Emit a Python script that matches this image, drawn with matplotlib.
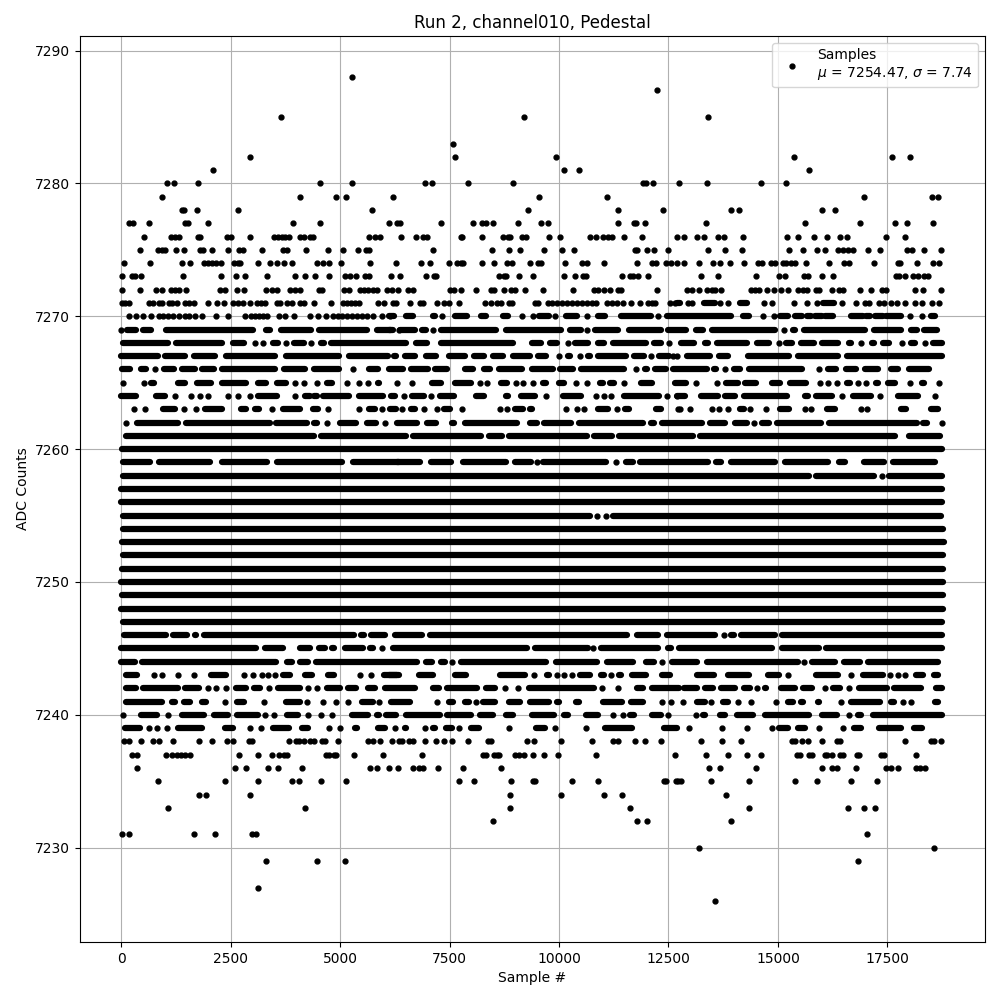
import matplotlib
matplotlib.use('Agg')
import matplotlib.pyplot as plt

# Sample numbers, one list per ADC level.
# A plain number is a single sample, a (start, end) pair is a stretch where
# the dots overlap so much that single samples cannot be told apart.
level_7288 = [5282]
level_7287 = [12242]
level_7285 = [3640, 9210, 13396]
level_7283 = [7568]
level_7282 = [2934, 7614, 9940, 15357, 17614, 18025]
level_7281 = [2090, 10122, 10464, 15699]
level_7280 = [1041, 1201, 1748, 4552, 5282, 6930, 7090, 7933, 8959, 11923, 11992, 12151, 12735, 13374, 14605, 15175]
level_7279 = [927, 4074, 4917, 5145, 6217, 9552, 11102, 16976, 18526, 18663]
level_7278 = [1390, 1436, 1725, 2660, 5738, 9301, 11353, 12379, 13921, 14103, 15996, 16315]
level_7277 = [190, 266, 631, 1460, 1520, 1976, 3914, 4552, 6126, 6292, 6360, 7295, 8047, 8252, 8344, 8503, 9073, 9598,
              9757, 11353, 11718, 11764, 11969, 13351, 15608, 16885, 17668, 17956, 18549]
level_7276 = [517, 1140, 1231, 1322, 1748, 1801, 2409, 2500, 2934, 3481, 3572, 3663, 3739, 3830, 4074, 4165, 4302, 4393,
              5670, 5806, 5920, 6390, 6725, 6884, 6976, 7751, 7796, 8252, 8731, 8845, 8891, 9164, 9256, 9780, 10031,
              10715, 10852, 11011, 11125, 11216, 11490, 11900, 12690, 12849, 13146, 13305, 13624, 13761, 14194, 15198,
              15448, 15813, 16110, 16429, 16588, 17478, 17911]
level_7275 = [426, 836, 927, 1003, 1246, 1429, 1794, 1862, 2067, 2432, 2683, 2774, 3207, 3686, 3777, 4233, 4735, 5077,
              5419, 5601, 5662, 7112, 8480, 8868, 9119, 9666, 10076, 10350, 11741, 11786, 12014, 12174, 12500, 13396,
              13784, 14172, 15243, 15562, 15882, 16064, 16383, 16497, 16612, 16726, 17067, 17341, 17956, 18070, 18344,
              18732]
level_7274 = [61, 654, 1383, 1566, 1885, 1976, 2067, 2158, 2272, 2569, 2660, 2706, 3116, 3390, 3549, 3709, 3891, 4484,
              4621, 4758, 5031, 5692, 6269, 6839, 7044, 7477, 7660, 7751, 7819, 8252, 8526, 8822, 8936, 9347, 9529,
              9598, 10145, 10532, 10645, 11034, 11786, 12128, 12220, 12448, 12553, 12690, 12849, 13191, 13510, 13670,
              13898, 14217, 14536, 14628, 14833, 14924, 15106, 15175, 15289, 15380, 15631, 16178, 16520, 16634, 17204,
              17751, 17797, 18184, 18549, 18686]
level_7273 = [15, 243, 312, 448, 1406, 2272, 2614, 2820, 3321, 3982, 4210, 4438, 4758, 5122, 5236, 5373, 5578, 5670,
              6162, 6360, 6953, 7135, 7181, 8640, 8754, 8800, 9096, 9415, 10122, 10373, 10555, 10624, 11444, 11627,
              11695, 11809, 12037, 13237, 13624, 14491, 15015, 15152, 15585, 15676, 16018, 16269, 17706, 17774, 17911,
              18093, 18207, 18344, 18435]
level_7272 = [15, 426, 790, 927, 1132, 1224, 1315, 1474, 2250, 2364, 2637, 2797, 3298, 3435, 3549, 3846, 3982, 4074,
              4530, 4598, 5100, 5214, 5464, 5555, 5646, 5760, 5852, 6079, 6194, 6314, 6542, 6656, 7500, 7591, 7751,
              8116, 8458, 8526, 8746, 8914, 9005, 9233, 9643, 10327, 10806, 10897, 11034, 11171, 11353, 11422, 12242,
              12918, 13032, 13191, 13374, 13488, 13556, 13693, 14377, 14468, 14559, 14742, 14901, 15061, 15220, 15448,
              15562, 15654, 15859, 15927, 16246, 16406, 16497, 16885, 17136, 17386, 17478, 18139, 18321, 18732]
level_7271 = [15, 84, 175, 631, 722, 859, 927, 1087, 1155, 1269, 1452, 1543, 1657, 1976, 2181, 2341, 2546, 2660, 2774,
              2934, 3093, 3184, 3276, 3549, 3618, 3777, 3891, 4074, 4165, 4416, 4803, 5077, 5168, 5259, 5350, 5442,
              5875, 6012, 6200, 6269, 6588, 6816, 6884, 7204, 7363, 7477, 7705, 8321, 8458, 8594, 8686, 8868, 8936,
              9461, 9529, 9757, 9848, 9962, 10076, 10190, 10304, 10418, 10532, 10646, 10760, 10852, 11102, 11216,
              11330, 11467, 11634, 11855, 12037, 12128, 12197, 12539, 12653, (12700, 12766), 12940, 13032,
              (13305, 13556), 13670, 13852, (14126, 14286), 14673, 14856, 15357, 15654, 15882, (16041, 16270), 16474,
              16794, 16998, 17090, 17318, 17432, 17592, 17729, 17911, 18139, 18298, 18526, 18686]
level_7270 = [175, 334, 494, 676, 859, 950, 1064, 1178, 1315, 1452, 1543, 1680, 1839, 2158, 2432, 2820, 2956, 3048, 3139,
              3230, 3321, 3595, 3732, 3937, 4324, 4499, 4689, 4849, 4963, 5054, 5168, 5282, 5396, 5510, 5624, 5761,
              5966, 6148, (6124, 6238), (6497, 6664), (7120, 7158), 7333, (7622, 7903), (8230, 8336), (8724, 8830),
              9164, 9400, (9552, 9765), 9902, (10160, 10403), 10646, (10890, 11057), (11422, 12098), 12250,
              (12470, 13928), (14210, 14346), 14650, 14901, (15046, 15220), (15380, 15540), (15654, 15752),
              (15844, 15996), (16072, 16262), (16664, 16946), (17021, 17098), (17212, 17402), (17478, 17820), 18025,
              18298, (18504, 18580)]
level_7269 = [0, (144, 350), (509, 692), (1018, 3010), (3298, 3390), (3640, 4340), (4514, 5609), (5844, 6202),
              6346, (6124, 6170), (6360, 6702), (6877, 6953), 7112, (7310, 8564), (8792, 10046),
              (10244, 10502), 10646, (10829, 11338), (11604, 12341), (12500, 12902), (13138, 13282), (13495, 14924),
              15137, (15342, 15395), (15585, 16991), (17204, 17812), (18040, 18169), (18344, 18625)]
level_7268 = [(53, 1079), (1262, 2310), (2554, 2797), 3055, 3230, (3473, 3580), 3754, (3944, 4165), 4332, (4575, 4644),
              (4803, 6512), (6740, 6983), (7295, 8944), (9385, 9590), (9803, 9947), 10206, (10358, 10654),
              (10890, 11034), (11224, 11984), (12174, 12326), 12516, (12796, 13077), (13328, 13404), (13617, 14293),
              (14529, 14787), 15015, (15190, 15319), (15517, 15813), (16011, 16383), (16634, 16672), 16908,
              (17151, 17204), (17394, 17538), 17835, (18040, 18131), 18367, (18549, 18739)]
level_7267 = [(8, 844), (996, 1467), (1664, 2151), (2386, 3504), (3754, 4986), (5198, 6088), (6238, 6278),
              (6482, 6702), (6953, 7181), (7485, 7842), (8055, 8298), (8496, 8731), (8944, 9347), (9514, 9704), 10000,
              (10198, 10251), 10472, (10662, 10707), (10890, 11528), (11703, 11946), 12106, (12273, 12516), 12610,
              12691, (12933, 13457), (13655, 13860), (14316, 15243), (15456, 16383), (16581, 18739)]
level_7266 = [(30, 213), (464, 562), 768, (980, 1200), (1383, 1680), (1854, 2113), (2310, 3504), (3716, 4210),
              (4400, 4986), 5305, (5654, 5860), (6110, 6436), (6611, 7006), (7166, 7439), (7850, 8032), (8283, 8427),
              (8625, 9157), (9385, 9856), (10031, 10312), (10510, 11490), 11764, (11954, 11999), (12182, 12455),
              (12615, 13381), (13533, 13586), 13784, (13989, 14141), (14331, 15547), 15935, (16140, 16322),
              (16558, 16778), (16991, 17295), (17584, 17751), (17994, 18450), (18648, 18663)]
level_7265 = [53, 517, (692, 745), (1307, 1467), (1740, 2060), (2310, 2858), (3131, 3314), (3564, 3770), 3967, 4172,
              4469, (4704, 4818), 5168, 5442, 5639, (5867, 5898), 6307, 6634, (7090, 7310), (7622, 7994), 8192, 8366,
              (8678, 8807), 9028, 9187, 9415, (9628, 9704), (9993, 10122), 10396, 10646, (10928, 10996),
              (11171, 11262), 11475, (11866, 12128), (12660, 12902), 13123, 13617, (13822, 14080), (14255, 14498),
              (14863, 15053), (15281, 15638), 15950, 16148, 16353, (16573, 16657), 16824, 17022, (17242, 17295),
              (17523, 17675), 18025, (18283, 18344), 18686]
level_7264 = [(8, 350), (806, 1011), 1224, 1588, 1794, 1984, 2440, 2660, 2934, (3124, 3557), 3982, (4195, 4317),
              (4400, 4469), (4606, 5198), (5426, 5974), (6171, 6262), 6466, (6649, 6907), 7074, (7280, 7591),
              (8108, 8298), (8800, 8845), (9134, 9446), 9712, (10092, 10502), 10852, 11019, 11194, (11490, 12288),
              12478, 12691, (12705, 12872), (13252, 13632), (13799, 14012), (14225, 15198), (15623, 15684),
              (15874, 16246), 16474, (16710, 17128), 17341, (17744, 18192), 18595]
level_7263 = [289, 555, (958, 1239), 1444, 1710, (1908, 2310), (2728, 2842), (3048, 3146), 3435, (3694, 4089),
              (4378, 4492), 4735, 5442, (5654, 5806), 5958, (6148, 6278), 6406, (6611, 6702), 6907, 7204, (7371, 7500),
              7774, 8663, 8815, (9000, 9172), (9347, 9385), 10168, 10418, 10578, (10890, 11110), 11315,
              (11513, 11604), (12212, 12334), 12721, 12766, 13000, 13488, 13647, 13860, (14141, 14217), 14369, 14719,
              (15046, 15258), 15623, 15760, (16125, 16307), 16900, 17044, (17812, 17918), (18496, 18663)]
level_7262 = [106, (372, 1307), (1490, 3390), (3542, 4248), (4400, 4469), 4712, (5000, 5366), (5616, 5822), 6034,
              (6300, 6763), (6976, 7181), (7561, 7606), (7850, 9043), (9347, 9491), (9666, 10274), (10449, 11908),
              (12106, 12174), (12364, 13267), (13457, 13784), (14027, 14293), 14445, (14635, 14787), (14977, 15988),
              (16163, 18169), (18321, 18397), 18739]
level_7261 = [(122, 4416), (4575, 6512), (6671, 8222), (8412, 8701), (8868, 10639), (10806, 11209), (11376, 13054),
              (13214, 17675), (17987, 18701)]
level_7260 = [(30, 18740)]
level_7259 = [(53, 669), (866, 2037), (2310, 3329), (3564, 5046), (5290, 6346), (6307, 6816), (7082, 7523),
              (7812, 8792), (9000, 9362), 9506, (9628, 11072), 11292, (11535, 11680), (11855, 13396), (13594, 13708),
              (13936, 14924), (15152, 16155), (16406, 16535), (16961, 17424), (17622, 18587)]
level_7258 = [(53, 15699), (15859, 17204), 17386, (17546, 18739)]
level_7257 = [(8, 18739)]
level_7256 = [(8, 18754)]
level_7255 = [(53, 10707), 10867, 11080, (11239, 18732)]
level_7254 = [(40, 18760)]
level_7253 = [(20, 18790)]
level_7252 = [(40, 18760)]
level_7251 = [(30, 18770)]
level_7250 = [(8, 18770)]
level_7249 = [(20, 18770)]
level_7248 = [(8, 18770)]
level_7247 = [(53, 18750)]
level_7246 = [(68, 1034), (1193, 1512), (1680, 1718), (1892, 5328), (5487, 5556), (5715, 6034), (6247, 6862),
              (7052, 11543), (11779, 12250), (12463, 13571), 13761, (13921, 13997), (14164, 14939), (15091, 18739)]
level_7245 = [(8, 3086), (3283, 3694), (4074, 4317), (4530, 4651), (4818, 4872), (5107, 5533), (5692, 5746), 5958,
              (6202, 9263), (9461, 10654), 10783, (10958, 12250), (12500, 12554), (12735, 14863), (15091, 15927),
              (16102, 18739)]
level_7244 = [(8, 312), (471, 3542), (3792, 3906), (4096, 4264), (4454, 6755), (6953, 7105), (7295, 7386), 7553,
              (7766, 9704), (9932, 10859), (11095, 11680), (11984, 12174), 12356, (12577, 13154), (13389, 15456),
              15585, (15775, 16307), (16505, 16877), (17067, 18663)]
level_7243 = [(122, 365), 752, 927, 1290, 1657, (2060, 2402), 2797, 3010, 3207, 3352, 3511, (3694, 3846), (4195, 4362),
              (4727, 4872), 5449, 5700, (6012, 6346), (6124, 6307), (6801, 7120), (7614, 7865), (8648, 9225), 9438,
              (9727, 9780), 9955, 10107, 10304, (10487, 10707), (10966, 11034), 11194, (11376, 11414), (11665, 11984),
              (12364, 12531), (13161, 13541), (13860, 14346), (14772, 15015), 15236, (15859, 16383), 16680,
              (16938, 17409), 17561, 17736, 17903, (18154, 18321), (18557, 18648)]
level_7242 = [(106, 334), (502, 1300), (1459, 1771), 1976, 2174, 2386, (2630, 2842), (3032, 3162), 3374, (3587, 4089),
              4279, 4469, (4704, 5008), (5183, 5366), (5639, 5799), (6019, 6702), (7120, 7257), (7447, 8123),
              (8336, 8549), 8761, 9073, (9324, 10806), 10981, 11338, (11779, 11908), (12121, 12736), (12857, 13154),
              (13343, 13510), (13708, 14012), (14225, 14369), 14521, (14711, 14734), (15061, 15380), (15570, 15775),
              16079, (16269, 16421), 16619, (16862, 17485), (17660, 18268), (18610, 18739)]
level_7241 = [(122, 942), (1170, 1224), (1436, 1566), (1854, 1946), 2371, (2652, 2797), 3268, (3770, 4074), 4248, 4621,
              4917, 5191, (5502, 5746), 5890, (6171, 6603), 7204, (7485, 7576), (7850, 7956), 8116, (8260, 8549),
              (8853, 9119), (9347, 9780), (9955, 10008), (10388, 10464), (10996, 11437), (11642, 11923), 12356, 12553,
              12827, (13161, 13328), 13465, (13746, 13852), 14080, 14377, 14947, (15228, 15334), (15517, 15570),
              (15912, 15942), 16444, (16672, 17333), (17584, 17660), 17850, 18032, (18587, 18663)]
level_7240 = [46, (464, 821), 1072, (1398, 1885), (2120, 2440), (2652, 3124), 3276, 3488, (3792, 4036), 4264, 4560,
              4818, (5274, 5632), (5844, 5882), (6050, 6284), (6497, 7272), (7447, 7994), (8207, 8503), (8792, 8959),
              (9385, 9894), (10107, 10198), (10616, 10882), 11224, 11460, (11627, 11718), (12121, 12326), 12500, 13123,
              (13290, 13343), (13685, 13784), (14065, 14422), (14696, 15699), (16011, 16353), 16634, (16824, 16900),
              (17174, 18739)]
level_7239 = [(91, 426), 638, 813, 1049, (1300, 1854), (2371, 2554), 2934, 3184, (3466, 3830), (4134, 4264), 4758, 4993,
              (5335, 5381), (5860, 6034), 6262, (6482, 6512), 6930, (7120, 7158), (7409, 7561), 7705, (7994, 8184),
              8868, (9484, 9689), 9917, 10616, (11057, 11665), (12387, 12697), 12963, 13716, 14286, 14856,
              (15015, 15228), (15456, 15623), 15927, 16482, (16733, 16900), (17318, 17812), (18116, 18298)]
level_7238 = [61, 175, 448, 722, 859, 1178, 1771, 2067, 2409, 2546, 2911, 2979, 3830, 4005, 4051, 4165, 4302, 4416,
              4598, 4666, 4963, 5647, 5761, 5920, 6194, 6337, 6406, 6565, 6656, 6930, 7181, 7363, 7546, 7933, 8389,
              8458, 9278, 9438, 10054, 10760, 11239, 11353, 11741, 11969, 12334, 13237, 13716, 14149, 15312, 15380,
              15540, 15676, 16018, 16338, 16429, 17911, 18504, 18572, 18732]
level_7237 = [243, 357, 1018, 1155, 1270, 1360, 1452, 1566, 2683, 3116, 3435, 3595, 3709, 3777, 4689, 4758, 4872, 4917,
              5328, 5989, 6862, 8275, 8344, 8526, 8594, 8640, 9005, 9096, 9210, 9415, 9666, 9985, 10852, 12644, 13351,
              13852, 14286, 14605, 15426, 15494, 15699, 15768, 16064, 16132, 16246, 16429, 16497, 16816, 16862, 17364,
              17432, 18162]
level_7236 = [357, 2592, 2842, 3344, 3572, 4142, 5692, 5852, 6126, 6314, 6656, 6793, 6884, 7226, 7819, 8686, 13419,
              13670, 14491, 15996, 16246, 16360, 16794, 17478, 17592, 17751, 18162, 18253, 18367]
level_7235 = [836, 2364, 3116, 3891, 4051, 4575, 5145, 7705, 8070, 8914, 9415, 9461, 10304, 10897, 12402, 12448, 12676,
              12721, 12781, 13465, 14331, 15380, 15882, 16680, 17272]
level_7234 = [1771, 1930, 2934, 8891, 10054, 11034, 11444, 13807]
level_7233 = [1064, 4188, 8891, 11627, 14331, 16611, 16976, 17227]
level_7232 = [8503, 11786, 12014, 13921]
level_7231 = [15, 175, 1657, 2136, 2979, 3070, 17044]
level_7230 = [13191, 18572]
level_7229 = [3298, 4484, 5122, 16839]
level_7227 = [3116]
level_7226 = [13556]

levels = {
    7288: level_7288, 7287: level_7287, 7285: level_7285, 7283: level_7283, 7282: level_7282, 7281: level_7281,
    7280: level_7280, 7279: level_7279, 7278: level_7278, 7277: level_7277, 7276: level_7276, 7275: level_7275,
    7274: level_7274, 7273: level_7273, 7272: level_7272, 7271: level_7271, 7270: level_7270, 7269: level_7269,
    7268: level_7268, 7267: level_7267, 7266: level_7266, 7265: level_7265, 7264: level_7264, 7263: level_7263,
    7262: level_7262, 7261: level_7261, 7260: level_7260, 7259: level_7259, 7258: level_7258, 7257: level_7257,
    7256: level_7256, 7255: level_7255, 7254: level_7254, 7253: level_7253, 7252: level_7252, 7251: level_7251,
    7250: level_7250, 7249: level_7249, 7248: level_7248, 7247: level_7247, 7246: level_7246, 7245: level_7245,
    7244: level_7244, 7243: level_7243, 7242: level_7242, 7241: level_7241, 7240: level_7240, 7239: level_7239,
    7238: level_7238, 7237: level_7237, 7236: level_7236, 7235: level_7235, 7234: level_7234, 7233: level_7233,
    7232: level_7232, 7231: level_7231, 7230: level_7230, 7229: level_7229, 7227: level_7227, 7226: level_7226,
}

# Einzelne Samples und zusammenhaengende Stuecke trennen
dot_x, dot_y = [], []
run_y, run_start, run_end = [], [], []
for adc, entries in levels.items():
    for entry in entries:
        if isinstance(entry, tuple):
            run_y.append(adc)
            run_start.append(entry[0])
            run_end.append(entry[1])
        else:
            dot_x.append(entry)
            dot_y.append(adc)

fig, ax = plt.subplots(figsize=(10, 10), dpi=100)

ax.plot(dot_x, dot_y, 'k.', markersize=7, label='Samples\n$\\mu$ = 7254.47, $\\sigma$ = 7.74')
ax.hlines(run_y, run_start, run_end, colors='k', linewidth=4.5, capstyle='round')

ax.set_title('Run 2, channel010, Pedestal')
ax.set_xlabel('Sample #')
ax.set_ylabel('ADC Counts')
ax.grid(True)
ax.legend(loc='upper right')

fig.subplots_adjust(left=0.08, right=0.985, top=0.964, bottom=0.058)
plt.savefig('out.png', dpi=100)
